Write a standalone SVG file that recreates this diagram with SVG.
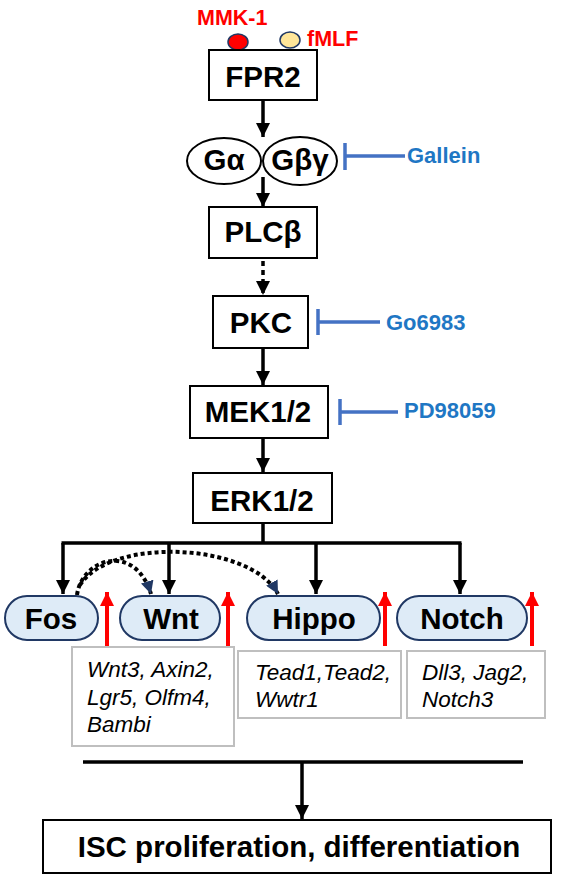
<svg xmlns="http://www.w3.org/2000/svg" width="567" height="879" viewBox="0 0 567 879">
<defs>
<style>
.box{fill:#fff;stroke:#000;stroke-width:2}
.nt{font-family:"Liberation Sans",Arial,sans-serif;font-weight:bold;font-size:29.5px;fill:#000;text-anchor:middle}
.inh{font-family:"Liberation Sans",Arial,sans-serif;font-weight:bold;font-size:22px;fill:#1F77C4}
.lig{font-family:"Liberation Sans",Arial,sans-serif;font-weight:bold;font-size:21.5px;fill:#FF0000}
.gene{font-family:"Liberation Sans",Arial,sans-serif;font-style:italic;font-size:22.5px;fill:#000}
.pill{fill:#DEEBF7;stroke:#203864;stroke-width:2}
.gbox{fill:#fff;stroke:#BFBFBF;stroke-width:2}
.ln{fill:none;stroke:#000;stroke-width:3.5}
.dot{fill:none;stroke:#000;stroke-width:4;stroke-dasharray:4 3}
.ib{fill:none;stroke:#4472C4;stroke-width:3.5}
.red{fill:none;stroke:#FF0000;stroke-width:4}
</style>
<marker id="ah" markerUnits="userSpaceOnUse" markerWidth="14" markerHeight="14" viewBox="0 0 14 14" refX="14" refY="7" orient="auto"><path d="M0,0 L14,7 L0,14 Z" fill="#000"/></marker>
<marker id="ahn" markerUnits="userSpaceOnUse" markerWidth="13" markerHeight="13" viewBox="0 0 13 13" refX="13" refY="6.5" orient="auto"><path d="M0,0 L13,6.5 L0,13 Z" fill="#203864"/></marker>
<marker id="ahr" markerUnits="userSpaceOnUse" markerWidth="14" markerHeight="14" viewBox="0 0 14 14" refX="14" refY="7" orient="auto"><path d="M0,0 L14,7 L0,14 Z" fill="#FF0000"/></marker>
</defs>

<g id="connectors">
<line class="ln" x1="263" y1="101" x2="263" y2="137" marker-end="url(#ah)"/>
<line class="ln" x1="263" y1="177" x2="263" y2="207" marker-end="url(#ah)"/>
<line class="ln" x1="263" y1="261" x2="263" y2="295" stroke-dasharray="5 4" marker-end="url(#ah)"/>
<line class="ln" x1="263" y1="349" x2="263" y2="385" marker-end="url(#ah)"/>
<line class="ln" x1="263" y1="439" x2="263" y2="472" marker-end="url(#ah)"/>
<path class="ln" d="M263,524 V543 M61.5,543 H461.5"/>
<line class="ln" x1="63" y1="543" x2="63" y2="594" marker-end="url(#ah)"/>
<line class="ln" x1="169" y1="543" x2="169" y2="594" marker-end="url(#ah)"/>
<line class="ln" x1="316" y1="543" x2="316" y2="594" marker-end="url(#ah)"/>
<line class="ln" x1="460" y1="543" x2="460" y2="594" marker-end="url(#ah)"/>
<path class="dot" d="M77,595 C82,558 135,542 151,594" marker-end="url(#ahn)"/>
<path class="dot" d="M80,585 C110,537 250,542 278,594" marker-end="url(#ahn)"/>
<line class="red" x1="107" y1="646" x2="107" y2="592" marker-end="url(#ahr)"/>
<line class="red" x1="228" y1="646" x2="228" y2="592" marker-end="url(#ahr)"/>
<line class="red" x1="385" y1="646" x2="385" y2="592" marker-end="url(#ahr)"/>
<line class="red" x1="532" y1="646" x2="532" y2="592" marker-end="url(#ahr)"/>
<line class="ln" x1="83" y1="762" x2="523" y2="762" stroke-width="4"/>
<line class="ln" x1="302" y1="762" x2="302" y2="819" marker-end="url(#ah)"/>
<path class="ib" d="M345,143 V170 M345,156 H405"/>
<path class="ib" d="M318,309 V335 M318,322 H380"/>
<path class="ib" d="M340,399 V425 M340,412 H398"/>
</g>

<g id="MMK1">
<ellipse cx="238" cy="42" rx="10" ry="8" fill="#FF0000" stroke="#203864" stroke-width="1.5"/>
<text class="lig" x="197" y="25">MMK-1</text>
</g>
<g id="fMLF">
<ellipse cx="290" cy="40" rx="10" ry="8" fill="#FFE699" stroke="#203864" stroke-width="1.5"/>
<text class="lig" x="307" y="46">fMLF</text>
</g>
<g id="FPR2">
<rect class="box" x="209" y="50" width="108" height="50"/>
<text class="nt" x="263" y="87">FPR2</text>
</g>
<g id="Galpha">
<ellipse cx="224" cy="161" rx="37" ry="23" fill="#fff" stroke="#000" stroke-width="2"/>
<text class="nt" x="224" y="170" font-size="28">Gα</text>
</g>
<g id="Gbetagamma">
<ellipse cx="300" cy="161" rx="37" ry="24" fill="#fff" stroke="#000" stroke-width="2"/>
<text class="nt" x="300" y="170" font-size="28">Gβγ</text>
</g>
<g id="Gallein"><text class="inh" x="407" y="163">Gallein</text></g>
<g id="PLCb">
<rect class="box" x="209" y="207" width="108" height="51"/>
<text class="nt" x="263" y="242">PLCβ</text>
</g>
<g id="PKC">
<rect class="box" x="213" y="296" width="95" height="52"/>
<text class="nt" x="261" y="333">PKC</text>
</g>
<g id="Go6983"><text class="inh" x="386" y="330">Go6983</text></g>
<g id="MEK">
<rect class="box" x="190" y="386" width="138" height="52"/>
<text class="nt" x="258" y="422">MEK1/2</text>
</g>
<g id="PD98059"><text class="inh" x="404" y="418">PD98059</text></g>
<g id="ERK">
<rect class="box" x="193" y="473" width="139" height="50"/>
<text class="nt" x="262" y="511">ERK1/2</text>
</g>

<g id="Fos">
<rect class="pill" x="5" y="596" width="93" height="44" rx="22"/>
<text class="nt" x="51" y="629">Fos</text>
</g>
<g id="Wnt">
<rect class="pill" x="120" y="596" width="100" height="44" rx="22"/>
<text class="nt" x="171" y="629">Wnt</text>
</g>
<g id="Hippo">
<rect class="pill" x="247" y="596" width="133" height="44" rx="22"/>
<text class="nt" x="314" y="629">Hippo</text>
</g>
<g id="Notch">
<rect class="pill" x="397" y="596" width="130" height="44" rx="22"/>
<text class="nt" x="462" y="629">Notch</text>
</g>

<g id="WntGenes">
<rect class="gbox" x="72" y="647" width="162" height="99"/>
<text class="gene" x="87" y="677">Wnt3, Axin2,</text>
<text class="gene" x="87" y="705">Lgr5, Olfm4,</text>
<text class="gene" x="87" y="732">Bambi</text>
</g>
<g id="HippoGenes">
<rect class="gbox" x="238" y="651" width="163" height="67"/>
<text class="gene" x="255" y="680">Tead1,Tead2,</text>
<text class="gene" x="255" y="707">Wwtr1</text>
</g>
<g id="NotchGenes">
<rect class="gbox" x="407" y="651" width="138" height="67"/>
<text class="gene" x="422" y="680">Dll3, Jag2,</text>
<text class="gene" x="422" y="707">Notch3</text>
</g>

<g id="ISC">
<rect class="box" x="43" y="820" width="508" height="53"/>
<text class="nt" x="299" y="857" font-size="30.5">ISC proliferation, differentiation</text>
</g>
</svg>
